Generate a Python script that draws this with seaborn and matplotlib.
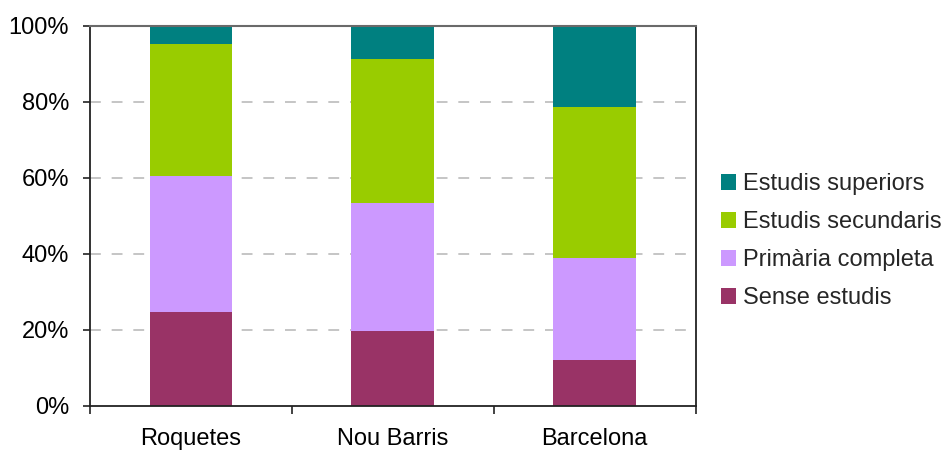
import matplotlib
matplotlib.use("Agg")
import matplotlib.pyplot as plt
import seaborn as sns
import pandas as pd
import numpy as np
from matplotlib.ticker import FixedLocator, PercentFormatter
from matplotlib.patches import Patch

# Data (percent)
areas = ["Roquetes", "Nou Barris", "Barcelona"]
levels = ["Sense estudis", "Primària completa", "Estudis secundaris", "Estudis superiors"]
sense = [24.6, 19.7, 12.0]
primaria = [35.9, 33.7, 26.8]
secundaris = [34.7, 37.8, 39.9]
superiors = [4.8, 8.8, 21.3]
colors = ["#993366", "#CC99FF", "#99CC00", "#008080"]

sns.set_theme(style="white")
plt.rcParams['font.family'] = ['Liberation Sans', 'DejaVu Sans']

series = [sense, primaria, secundaris, superiors]
cum = np.cumsum(np.array(series), axis=0)
rows = []
for li, lev in enumerate(levels):
    for ai, a in enumerate(areas):
        rows.append({"area": a, "level": lev, "value": series[li][ai], "top": cum[li][ai]})
df = pd.DataFrame(rows)

fig = plt.figure(figsize=(9.47, 4.51), dpi=100)
ax = fig.add_axes([90/947, 1-405.5/451, (695.7-90)/947, (405.5-25.7)/451])

# draw cumulative layers, tallest first
for li in reversed(range(len(levels))):
    sub = df[df["level"] == levels[li]]
    sns.barplot(data=sub, x="area", y="top", order=areas, color=colors[li],
                saturation=1, width=0.41, errorbar=None, ax=ax, zorder=2,
                edgecolor="none", linewidth=0)

ax.set_xlim(-0.5, 2.5)
ax.set_ylim(0, 100)
ax.set_xlabel("")
ax.set_ylabel("")
ax.yaxis.set_major_locator(FixedLocator([0, 20, 40, 60, 80, 100]))
ax.yaxis.set_major_formatter(PercentFormatter(decimals=0))
ax.grid(False)
for yv in [20, 40, 60, 80]:
    ax.axhline(yv, color="#c0c0c0", lw=1.3, ls=(0, (6, 6)), zorder=1)

for s in ["left", "bottom", "right"]:
    ax.spines[s].set_color("#222222")
    ax.spines[s].set_linewidth(1.3)
ax.spines["top"].set_color("#6a6a6a")
ax.spines["top"].set_linewidth(1.5)

ax.tick_params(axis="y", which="major", direction="out", length=5, width=1.2,
               color="#222222", labelsize=17, pad=10, left=True)
ax.tick_params(axis="x", which="major", length=0, labelsize=17, pad=16)
ax.xaxis.set_minor_locator(FixedLocator([-0.5, 0.5, 1.5, 2.5]))
ax.tick_params(axis="x", which="minor", direction="out", length=6, width=1.2,
               color="#222222", bottom=True)
for lab in ax.get_xticklabels() + ax.get_yticklabels():
    lab.set_color("black")

handles = [Patch(facecolor=colors[i], edgecolor="none", label=levels[i]) for i in reversed(range(4))]
fig.legend(handles=handles, loc="center left", bbox_to_anchor=(721/947, 1-241/451),
           frameon=False, borderpad=0, borderaxespad=0, fontsize=17,
           handlelength=0.65, handleheight=0.65, handletextpad=0.3, labelspacing=0.68)

fig.savefig("out.png", dpi=100)
